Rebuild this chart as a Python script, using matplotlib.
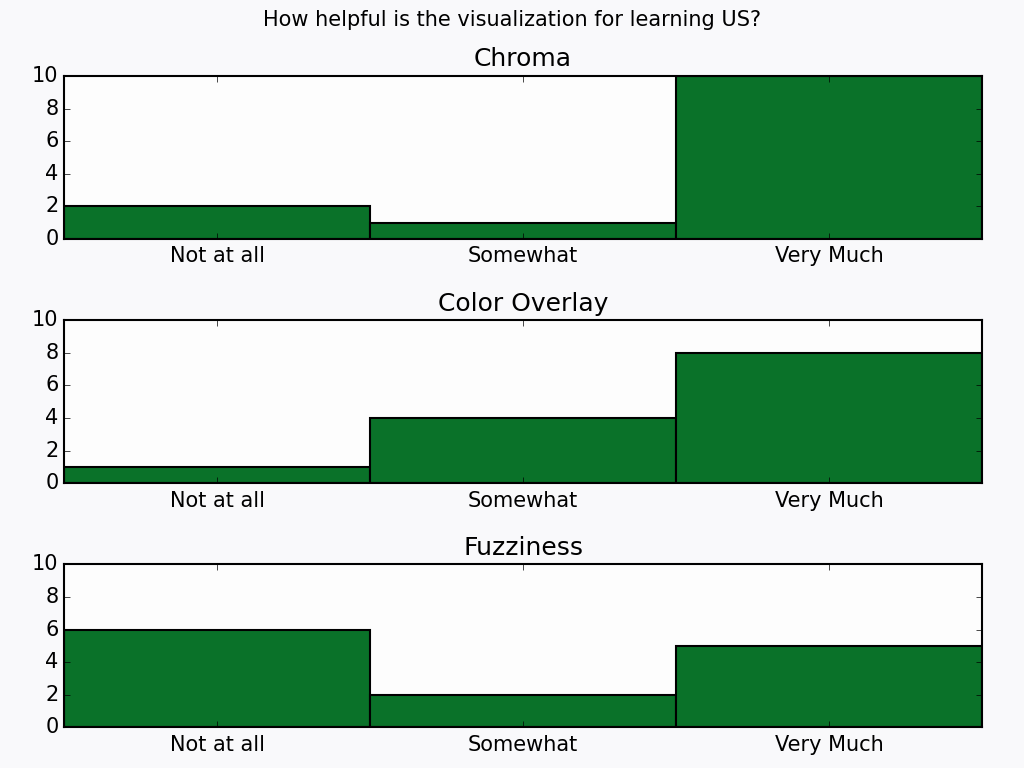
import matplotlib
matplotlib.use("Agg")
import matplotlib.pyplot as plt
import numpy as np

plt.style.use('classic')

categories = ["Not at all", "Somewhat", "Very Much"]
titles = ["Chroma", "Color Overlay", "Fuzziness"]
chroma = [2, 1, 10]
color_overlay = [1, 4, 8]
fuzziness = [6, 2, 5]

fig, axes = plt.subplots(3, 1, figsize=(10.24, 7.68), dpi=100, facecolor='#f9f9fb')
fig.subplots_adjust(left=0.0625, right=0.959, top=0.901, bottom=0.053, hspace=0.5)
fig.suptitle("How helpful is the visualization for learning US?", fontsize=15, y=0.987)

x = np.arange(len(categories))
for ax, title, vals in zip(axes, titles, [chroma, color_overlay, fuzziness]):
    ax.bar(x, vals, width=1.0, align='center', color='#0a7229', edgecolor='black', linewidth=1.5)
    ax.set_facecolor('#fdfdfd')
    ax.set_xlim(-0.5, 2.5)
    ax.set_ylim(0, 10)
    ax.set_yticks(range(0, 11, 2))
    ax.set_xticks(x)
    ax.set_xticklabels(categories)
    ax.set_title(title, fontsize=18, pad=7)
    ax.tick_params(labelsize=15)
    ax.tick_params(axis='x', pad=5.5)
    for s in ax.spines.values():
        s.set_linewidth(1.5)

fig.savefig("out.png", dpi=100, facecolor=fig.get_facecolor())
